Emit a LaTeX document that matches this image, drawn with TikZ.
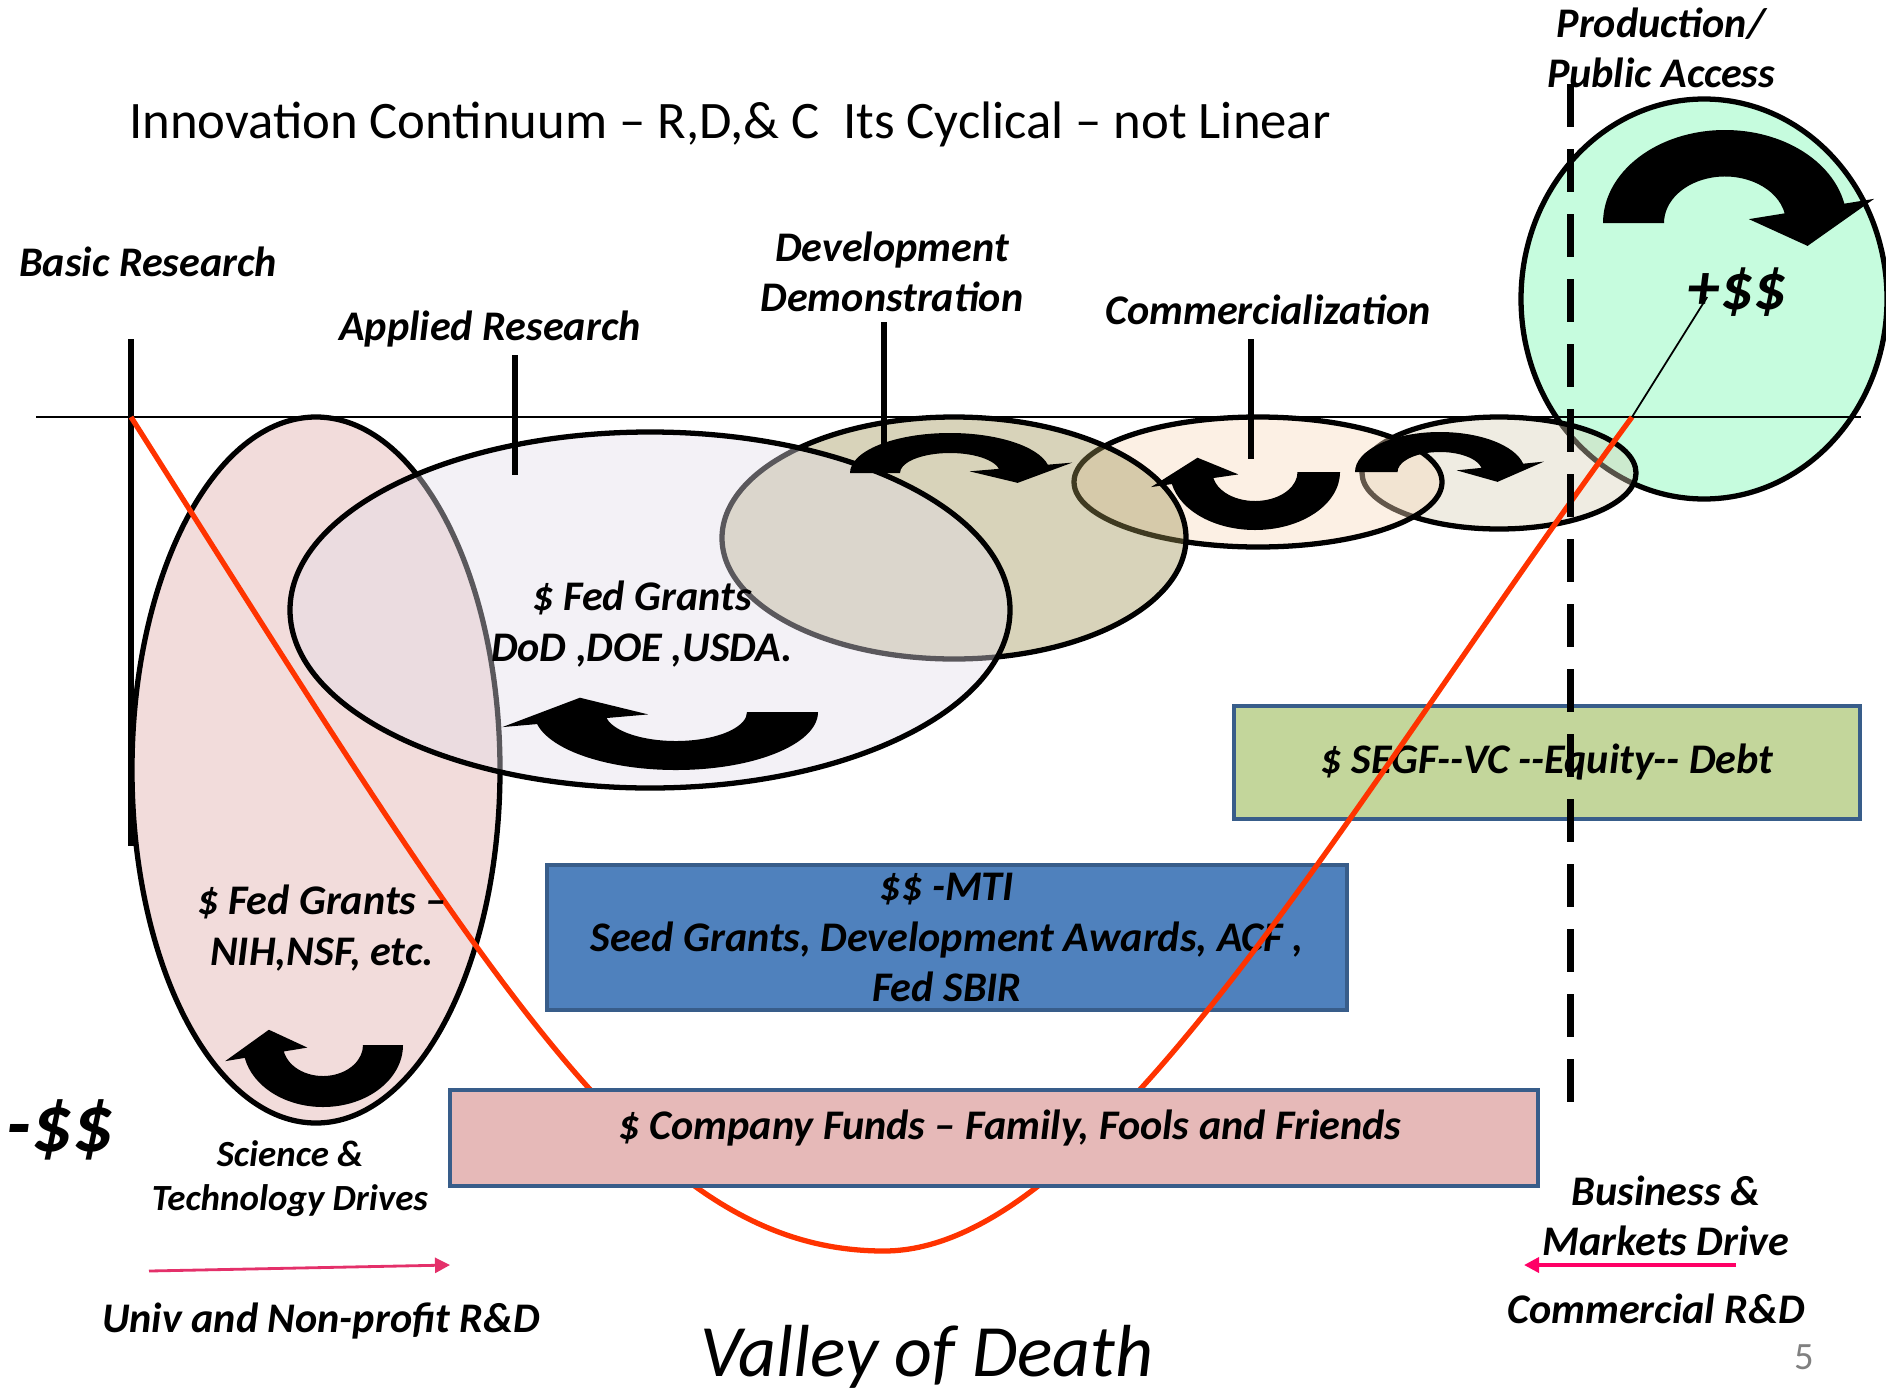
\documentclass[tikz,border=0pt]{standalone}
\usepackage{fontspec}
\setmainfont{Carlito}
\usetikzlibrary{shapes.geometric, arrows.meta}

\definecolor{basicfill}{RGB}{242,220,219}
\definecolor{appliedfill}{RGB}{225,220,232}
\definecolor{devfill}{RGB}{158,145,83}
\definecolor{commfill}{RGB}{248,218,188}
\definecolor{scalefill}{RGB}{215,207,182}
\definecolor{prodfill}{RGB}{198,252,222}
\definecolor{equityfill}{RGB}{195,214,155}
\definecolor{mtifill}{RGB}{79,129,189}
\definecolor{companyfill}{RGB}{230,185,184}
\definecolor{boxline}{RGB}{56,93,138}
\definecolor{valleyred}{RGB}{255,51,0}
\definecolor{univpink}{RGB}{228,48,106}
\definecolor{bizpink}{RGB}{255,0,102}

\begin{document}
\begin{tikzpicture}[
    >={Triangle[length=1.5mm, width=1.5mm]},
    lbl/.style={font=\bfseries\itshape\fontsize{12}{14.4}\selectfont, align=center, inner sep=0pt},
    stage/.style={ellipse, draw, line width=1.5pt, inner sep=0pt},
    seethru/.style={fill opacity=0.4},
    fund/.style={lbl, rectangle, draw=boxline, line width=1.3pt},
    tickmark/.style={line width=1.8pt},
    cyc/.pic={
        \fill (180:1) arc[start angle=180, end angle=12, radius=1]
            -- (12:1.25) -- (-20:0.72) -- (12:0.2) -- (12:0.5)
            arc[start angle=12, end angle=180, radius=0.5] -- cycle;
    }
]

    \useasboundingbox (0,0) rectangle (18.86,13.90);

    \node[stage, fill=prodfill, minimum width=3.66cm, minimum height=4cm] (prodE) at (17.04,10.91) {};
    \node[stage, seethru, fill=scalefill, minimum width=2.74cm, minimum height=1.12cm] (scaleE) at (14.99,9.17) {};
    \node[stage, seethru, fill=commfill, minimum width=3.68cm, minimum height=1.30cm] (commE) at (12.58,9.08) {};
    \node[stage, seethru, fill=devfill, minimum width=4.64cm, minimum height=2.42cm] (devE) at (9.54,8.52) {};
    \node[stage, fill=basicfill, minimum width=3.68cm, minimum height=7.06cm] (basicE) at (3.16,6.20) {};
    \node[stage, seethru, fill=appliedfill, minimum width=7.20cm, minimum height=3.56cm] (appliedE) at (6.50,7.80) {};

    \draw[line width=0.6pt] (0.36,9.73) -- (18.61,9.73);
    \draw[tickmark] (1.31,10.51) -- (1.31,5.44);
    \draw[tickmark] (5.15,10.35) -- (5.15,9.15);
    \draw[tickmark] (8.84,10.68) -- (8.84,9.45);
    \draw[tickmark] (12.51,10.51) -- (12.51,9.31);

    \pic[xscale=1.22, yscale=0.93] at (17.25,11.67) {cyc};
    \pic[xscale=1.00, yscale=0.40] at (9.50,9.17) {cyc};
    \pic[xscale=-1.42, yscale=-0.58] at (6.76,6.78) {cyc};
    \pic[xscale=-0.85, yscale=-0.58] at (12.55,9.18) {cyc};
    \pic[xscale=0.85, yscale=0.40] at (14.40,9.18) {cyc};
    \pic[xscale=-0.80, yscale=-0.62] at (3.23,3.45) {cyc};

    \node[fund, fill=mtifill, minimum width=8cm, minimum height=1.45cm] (mti) at (9.47,4.525)
        {\$\$ -MTI\\Seed Grants, Development Awards, ACF ,\\Fed SBIR};
    \node[fund, fill=equityfill, minimum width=6.26cm, minimum height=1.13cm] (equity) at (15.47,6.275)
        {\$ SEGF-{}-VC -{}-Equity-{}- Debt};

    \coordinate (origin) at (1.31,9.73);
    \coordinate (valley) at (8.84,1.39);
    \coordinate (breakeven) at (16.32,9.73);
    \draw[valleyred, line width=1.5pt] (origin) .. controls (5.00,3.90) and (6.50,1.39) .. (valley)
        .. controls (11.00,1.39) and (13.50,5.90) .. (breakeven);

    \node[fund, fill=companyfill, minimum width=10.88cm, minimum height=0.96cm] (company) at (9.94,2.52) {};
    \node[lbl] (companytext) at (10.10,2.62) {\$ Company Funds – Family, Fools and Friends};

    \draw[line width=2pt, dash pattern=on 0.43cm off 0.22cm] (15.70,13.06) -- (15.70,2.71);

    \node[font=\fontsize{15}{18}\selectfont] (title) at (7.30,12.66)
        {Innovation Continuum – R,D,\& C\ \ Its Cyclical – not Linear};
    \node[lbl] (basic) at (1.48,11.28) {Basic Research};
    \node[lbl] (applied) at (4.90,10.61) {Applied Research};
    \node[lbl] (dev) at (8.92,11.18) {Development\\Demonstration};
    \node[lbl] (comm) at (12.68,10.80) {Commercialization};
    \node[lbl] (prod) at (16.61,13.42) {Production/\\Public Access};
    \node[lbl, font=\bfseries\itshape\fontsize{18.5}{20}\selectfont] (plus) at (17.37,10.98) {+\$\$};
    \node[lbl, font=\bfseries\itshape\fontsize{23}{25}\selectfont] (minus) at (0.60,2.60) {-\$\$};
    \node[lbl] (fedapplied) at (6.42,7.66) {\$ Fed Grants\\DoD ,DOE ,USDA.};
    \node[lbl] (fedbasic) at (3.22,4.62) {\$ Fed Grants –\\NIH,NSF, etc.};
    \node[lbl, font=\bfseries\itshape\fontsize{10.5}{12.5}\selectfont] (scitech) at (2.90,2.11) {Science \&\\Technology Drives};
    \node[lbl] (univ) at (3.21,0.69) {Univ and Non-profit R\&D};
    \node[lbl] (business) at (16.66,1.74) {Business \&\\Markets Drive};
    \node[lbl] (commrd) at (16.56,0.81) {Commercial R\&D};
    \node[font=\itshape\fontsize{21}{24}\selectfont] (valleytext) at (9.27,0.33) {Valley of Death};
    \node[text=gray, font=\fontsize{11}{12}\selectfont] (page) at (18.04,0.33) {5};

    \draw[line width=0.5pt] (breakeven) -- ([shift={(0.2,-0.05)}]plus.west);

    \coordinate (univstart) at (1.49,1.19);
    \coordinate (univend) at (4.50,1.25);
    \draw[->, univpink, line width=0.8pt] (univstart) -- (univend);
    \coordinate (bizstart) at (17.36,1.25);
    \coordinate (bizend) at (15.24,1.25);
    \draw[->, bizpink, line width=1pt] (bizstart) -- (bizend);

\end{tikzpicture}
\end{document}
